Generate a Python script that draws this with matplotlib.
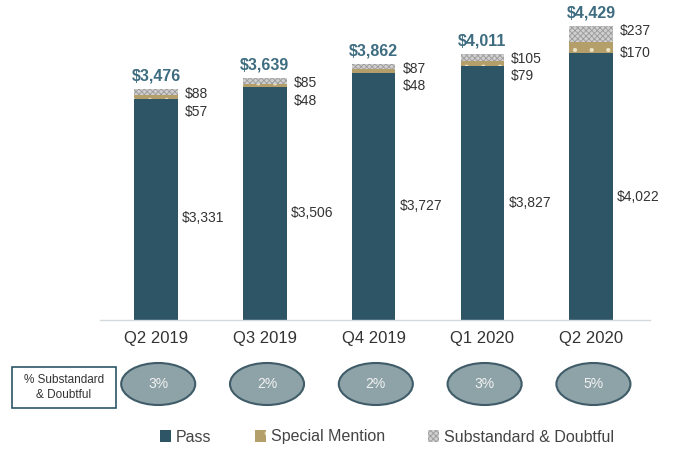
import matplotlib.pyplot as plt
from matplotlib.patches import Ellipse, Rectangle
import numpy as np

plt.rcParams['font.family'] = ['Liberation Sans', 'DejaVu Sans']
plt.rcParams['hatch.linewidth'] = 0.6

quarters = ["Q2 2019", "Q3 2019", "Q4 2019", "Q1 2020", "Q2 2020"]
pass_vals = [3331, 3506, 3727, 3827, 4022]
special_mention = [57, 48, 48, 79, 170]
substandard = [88, 85, 87, 105, 237]
totals = [3476, 3639, 3862, 4011, 4429]
pct_substandard = ["3%", "2%", "2%", "3%", "5%"]

c_pass = '#2d5566'
c_sm = '#b49e6a'
c_sd = '#cfcfcf'
c_total = '#3e6c80'
c_text = '#333333'

fig = plt.figure(figsize=(6.79, 4.49), dpi=100)
W, H = 679, 449

# main bar axes, placed in pixel terms
ax = fig.add_axes([100 / W, 1 - 320 / H, 550 / W, 320 / H])
x = np.arange(len(quarters))
p = np.array(pass_vals)
sm = np.array(special_mention)
sd = np.array(substandard)
bw = 0.40

ax.bar(x, p, bw, color=c_pass, linewidth=0, label='Pass')
ax.bar(x, sm, bw, bottom=p, color=c_sm, edgecolor='#ece2c4', hatch='.',
       linewidth=0, label='Special Mention')
ax.bar(x, sd, bw, bottom=p + sm, color=c_sd, edgecolor='#9a9a9a', hatch='xxxxxx',
       linewidth=0, label='Substandard & Doubtful')

ax.set_xlim(-0.515, 4.54)
ax.set_ylim(0, 4821)

for i in range(len(quarters)):
    right = x[i] + bw / 2
    ax.annotate(f"${pass_vals[i]:,}", (right, pass_vals[i] * 0.46), xytext=(3, 0),
                textcoords='offset points', va='center', ha='left', fontsize=10, color=c_text)
    sm_y = min(pass_vals[i], totals[i] - 340)
    ax.annotate(f"${special_mention[i]}", (right, sm_y), xytext=(5, 0),
                textcoords='offset points', va='center', ha='left', fontsize=10, color=c_text)
    ax.annotate(f"${substandard[i]}", (right, totals[i] - 75), xytext=(5, 0),
                textcoords='offset points', va='center', ha='left', fontsize=10, color=c_text)
    ax.annotate(f"${totals[i]:,}", (x[i], totals[i]), xytext=(0, 4),
                textcoords='offset points', va='bottom', ha='center', fontsize=11.5,
                fontweight='bold', color=c_total)

ax.set_xticks(x)
ax.set_xticklabels(quarters, fontsize=12, color=c_text)
ax.tick_params(axis='x', length=0, pad=8)
ax.set_yticks([])
for s in ['top', 'right', 'left']:
    ax.spines[s].set_visible(False)
ax.spines['bottom'].set_color('#d3dadd')
ax.spines['bottom'].set_linewidth(1)

# percentage row
ax2 = fig.add_axes([100 / W, 1 - 410 / H, 550 / W, 50 / H])
ax2.set_xlim(ax.get_xlim())
ax2.set_ylim(0, 50)
ax2.axis('off')
for i, pct in enumerate(pct_substandard):
    ax2.add_patch(Ellipse((x[i] + 0.02, 26), 74 / 108.75, 42, facecolor='#8ea3a8',
                          edgecolor='#3f5c68', linewidth=1.5))
    ax2.text(x[i] + 0.02, 26, pct, ha='center', va='center', fontsize=10, color='#f2f2f2')

fig.patches.append(Rectangle((12 / W, 1 - 408 / H), 104 / W, 41 / H, transform=fig.transFigure,
                             facecolor='white', edgecolor='#2d5566', linewidth=1.2))
fig.text(64 / W, 1 - 387.5 / H, "% Substandard\n& Doubtful", ha='center', va='center',
         fontsize=8.5, color=c_text, linespacing=1.4)

fig.legend(loc='center', bbox_to_anchor=(387 / W, 1 - 437 / H), ncol=3, frameon=False,
           fontsize=11.5, handlelength=0.7, handleheight=0.7, handletextpad=0.3,
           columnspacing=2.7, labelcolor='#444444')

fig.savefig('out.png', dpi=100)
